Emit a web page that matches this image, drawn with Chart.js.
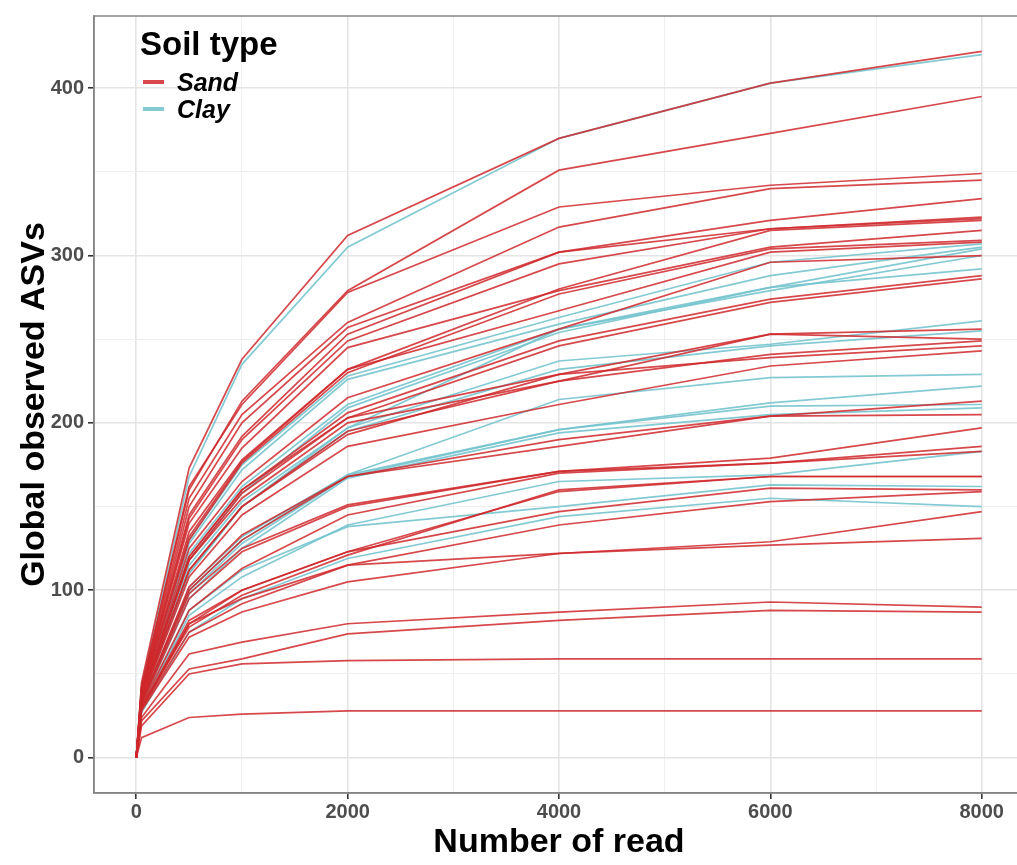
<!DOCTYPE html>
<html>
<head>
<meta charset="utf-8">
<script src="https://cdn.jsdelivr.net/npm/chart.js@4.4.1/dist/chart.umd.min.js"></script>
<style>
    html, body { margin: 0; padding: 0; background: #ffffff; overflow: hidden; }
    #rarefactionChart { display: block; }
</style>
</head>
<body>
<canvas id="rarefactionChart" width="1024" height="865"></canvas>
<script>
// Read depths (x axis) shared by every curve
const reads = [0, 50, 500, 1000, 2000, 4000, 6000, 8000];

// Observed ASVs per sample, Sand soils
const sandSeries = [
    [0, 45, 173, 238, 312, 370, 403, 422],
    [0, 42, 160, 213, 279, 351, 373, 395],
    [0, 42, 162, 211, 278, 329, 342, 349],
    [0, 41, 155, 205, 260, 317, 340, 345],
    [0, 40, 150, 200, 257, 302, 321, 334],
    [0, 40, 145, 192, 253, 302, 316, 323],
    [0, 39, 143, 190, 249, 295, 316, 322],
    [0, 38, 135, 178, 232, 280, 315, 321],
    [0, 39, 140, 185, 245, 279, 305, 315],
    [0, 37, 130, 176, 230, 277, 304, 309],
    [0, 38, 132, 177, 232, 267, 302, 308],
    [0, 36, 125, 165, 215, 256, 296, 300],
    [0, 36, 120, 160, 206, 249, 274, 288],
    [0, 35, 118, 158, 203, 246, 272, 286],
    [0, 35, 112, 150, 193, 229, 253, 256],
    [0, 36, 118, 155, 200, 225, 253, 250],
    [0, 35, 112, 150, 195, 225, 241, 249],
    [0, 36, 120, 160, 203, 229, 239, 246],
    [0, 34, 108, 145, 186, 211, 234, 243],
    [0, 33, 102, 133, 168, 190, 204, 213],
    [0, 33, 100, 130, 168, 186, 204, 205],
    [0, 33, 98, 125, 151, 171, 179, 197],
    [0, 32, 95, 123, 150, 171, 176, 186],
    [0, 31, 88, 113, 145, 170, 176, 183],
    [0, 30, 82, 100, 123, 159, 168, 168],
    [0, 30, 78, 97, 121, 160, 168, 168],
    [0, 30, 80, 100, 123, 147, 161, 160],
    [0, 29, 75, 92, 115, 139, 153, 159],
    [0, 28, 72, 87, 105, 122, 129, 147],
    [0, 29, 80, 95, 115, 122, 127, 131],
    [0, 24, 62, 69, 80, 87, 93, 90],
    [0, 22, 53, 59, 74, 82, 88, 87],
    [0, 19, 50, 56, 58, 59, 59, 59],
    [0, 12, 24, 26, 28, 28, 28, 28]
];

// Observed ASVs per sample, Clay soils
const claySeries = [
    [0, 43, 168, 235, 305, 370, 403, 420],
    [0, 38, 130, 175, 228, 263, 296, 307],
    [0, 37, 128, 172, 226, 259, 288, 305],
    [0, 36, 122, 162, 211, 256, 281, 304],
    [0, 34, 110, 150, 197, 256, 279, 300],
    [0, 35, 118, 158, 209, 254, 281, 292],
    [0, 35, 115, 153, 197, 237, 247, 261],
    [0, 34, 110, 150, 195, 232, 246, 255],
    [0, 32, 100, 130, 169, 214, 227, 229],
    [0, 32, 102, 132, 169, 196, 212, 222],
    [0, 31, 98, 128, 168, 196, 210, 211],
    [0, 31, 95, 125, 167, 194, 205, 209],
    [0, 29, 85, 108, 139, 165, 169, 183],
    [0, 29, 88, 112, 138, 150, 163, 162],
    [0, 27, 75, 95, 119, 144, 155, 150]
];

// Legend entries, tick labels and grid positions
const soilTypes = ['Sand', 'Clay'];
const soilColors = ['rgba(207, 40, 44, 0.85)', 'rgba(118, 196, 206, 0.9)'];
const xTickLabels = [0, 2000, 4000, 6000, 8000];
const xGridValues = [0, 1000, 2000, 3000, 4000, 5000, 6000, 7000, 8000];
const yTickLabels = [0, 100, 200, 300, 400];
const yGridValues = [0, 50, 100, 150, 200, 250, 300, 350, 400];

const FONT = '"Liberation Sans", Arial, Helvetica, sans-serif';

let rarefactionChart = null; // global chart reference

document.addEventListener("DOMContentLoaded", function () {
    drawRarefactionChart();
});

// build one dataset per sample curve
function buildDatasets() {
    const datasets = [];
    // Sand first so it is painted on top (Chart.js draws dataset 0 last)
    sandSeries.forEach((vals, i) => {
        datasets.push({
            label: soilTypes[0] + ' ' + (i + 1),
            data: vals.map((v, k) => ({ x: reads[k], y: v })),
            borderColor: soilColors[0],
            borderWidth: 1.7,
            pointRadius: 0,
            tension: 0,
            fill: false
        });
    });
    claySeries.forEach((vals, i) => {
        datasets.push({
            label: soilTypes[1] + ' ' + (i + 1),
            data: vals.map((v, k) => ({ x: reads[k], y: v })),
            borderColor: soilColors[1],
            borderWidth: 1.7,
            pointRadius: 0,
            tension: 0,
            fill: false
        });
    });
    return datasets;
}

// panel border on all four sides + legend inside the panel
const panelPlugin = {
    id: 'panelPlugin',
    afterDraw(chart) {
        const { ctx, chartArea } = chart;
        ctx.save();
        ctx.strokeStyle = '#858585';
        ctx.lineWidth = 1.5;
        ctx.strokeRect(chartArea.left, chartArea.top, chartArea.right - chartArea.left, chartArea.bottom - chartArea.top);

        // legend
        ctx.fillStyle = '#000000';
        ctx.textBaseline = 'alphabetic';
        ctx.textAlign = 'left';
        ctx.font = 'bold 33px ' + FONT;
        ctx.fillText('Soil type', 140, 55);

        const keyY = [82, 109];
        const textY = [91, 118];
        soilTypes.forEach((name, i) => {
            ctx.strokeStyle = soilColors[i];
            ctx.lineWidth = 4;
            ctx.beginPath();
            ctx.moveTo(143, keyY[i]);
            ctx.lineTo(164, keyY[i]);
            ctx.stroke();
            ctx.fillStyle = '#000000';
            ctx.font = 'italic bold 25px ' + FONT;
            ctx.fillText(name, 177, textY[i]);
        });
        ctx.restore();
    }
};

function isMajor(value, labels) {
    return labels.indexOf(value) !== -1;
}

function drawRarefactionChart() {
    if (rarefactionChart !== null) {
        rarefactionChart.destroy();
    }
    const ctx = document.getElementById('rarefactionChart').getContext('2d');

    rarefactionChart = new Chart(ctx, {
        type: 'line',
        data: { datasets: buildDatasets() },
        plugins: [panelPlugin],
        options: {
            responsive: false,
            animation: false,
            devicePixelRatio: 1,
            layout: { padding: { top: 12, right: 0, bottom: 0, left: 0 } },
            plugins: {
                legend: { display: false },
                tooltip: { enabled: false }
            },
            scales: {
                x: {
                    type: 'linear',
                    min: -400,
                    max: 8400,
                    afterFit: function (scale) { scale.height = 72; },
                    // fixed gridline positions (stepSize snaps to the bounds here)
                    afterBuildTicks: function (scale) {
                        scale.ticks = xGridValues.map(v => ({ value: v }));
                    },
                    ticks: {
                        autoSkip: false,
                        maxRotation: 0,
                        padding: 1,
                        color: '#4d4d4d',
                        font: { family: FONT, size: 20, weight: 'bold' },
                        callback: v => isMajor(v, xTickLabels) ? String(v) : ''
                    },
                    grid: {
                        color: c => (c.tick && isMajor(c.tick.value, xTickLabels)) ? '#e4e4e4' : '#efefef',
                        lineWidth: c => (c.tick && isMajor(c.tick.value, xTickLabels)) ? 1.6 : 1,
                        tickColor: c => (c.tick && isMajor(c.tick.value, xTickLabels)) ? '#333333' : 'rgba(0,0,0,0)',
                        tickLength: 6
                    },
                    border: { display: true, color: '#858585', width: 1.5 },
                    title: {
                        display: true,
                        text: 'Number of read',
                        color: '#000000',
                        font: { family: FONT, size: 34, weight: 'bold', lineHeight: 1.2 },
                        padding: { top: 2, bottom: 2 }
                    }
                },
                y: {
                    type: 'linear',
                    min: -21.1,
                    max: 443.1,
                    afterFit: function (scale) { scale.width = 94; },
                    afterBuildTicks: function (scale) {
                        scale.ticks = yGridValues.map(v => ({ value: v }));
                    },
                    ticks: {
                        autoSkip: false,
                        padding: 4,
                        color: '#4d4d4d',
                        font: { family: FONT, size: 20, weight: 'bold' },
                        callback: v => isMajor(v, yTickLabels) ? String(v) : ''
                    },
                    grid: {
                        color: c => (c.tick && isMajor(c.tick.value, yTickLabels)) ? '#e4e4e4' : '#efefef',
                        lineWidth: c => (c.tick && isMajor(c.tick.value, yTickLabels)) ? 1.6 : 1,
                        tickColor: c => (c.tick && isMajor(c.tick.value, yTickLabels)) ? '#333333' : 'rgba(0,0,0,0)',
                        tickLength: 6
                    },
                    border: { display: true, color: '#858585', width: 1.5 },
                    title: {
                        display: true,
                        text: 'Global observed ASVs',
                        color: '#000000',
                        font: { family: FONT, size: 34, weight: 'bold', lineHeight: 1.2 },
                        padding: { top: 14, bottom: 0 }
                    }
                }
            }
        }
    });
}
</script>
</body>
</html>
